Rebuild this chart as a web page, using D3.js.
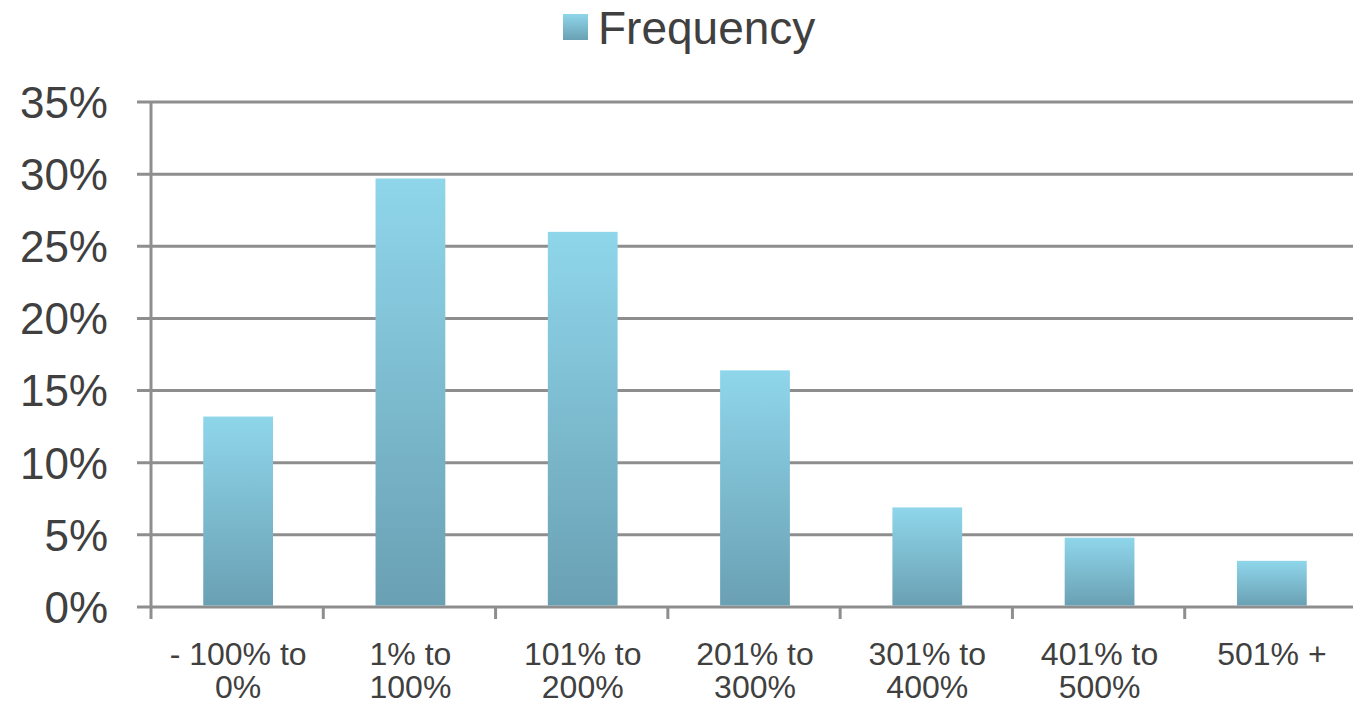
<!DOCTYPE html>
<html><head><meta charset="utf-8">
<script src="https://cdn.jsdelivr.net/npm/d3@7"></script>
<style>html,body{margin:0;padding:0;background:#fff;overflow:hidden}</style>
</head><body>
<svg id="chart" width="1353" height="704"></svg>
<script>
const categories = [["- 100% to","0%"],["1% to","100%"],["101% to","200%"],["201% to","300%"],["301% to","400%"],["401% to","500%"],["501% +"]];
const values = [13.2, 29.7, 26.0, 16.4, 6.9, 4.8, 3.2];
const yTicks = [0,5,10,15,20,25,30,35];
const seriesName = "Frequency";

(function(){
const svg = d3.select("#chart");
const font = "'Liberation Sans', Arial, sans-serif";
const textColor = "#404040";
const gridColor = "#8e8e8e";

const pL = 151, pR = 1357, pT = 102, pB = 607;
const keys = categories.map(c => c.join(" "));
const x = d3.scaleBand().domain(keys).range([pL, pR]).padding(0);
const y = d3.scaleLinear().domain([0,35]).range([pB, pT]);

const defs = svg.append("defs");
const grad = defs.append("linearGradient").attr("id","barGrad").attr("x1",0).attr("y1",0).attr("x2",0).attr("y2",1);
grad.append("stop").attr("offset","0%").attr("stop-color","#8fd6eb");
grad.append("stop").attr("offset","100%").attr("stop-color","#6aa0b3");

svg.append("g").selectAll("line").data(yTicks).join("line")
  .attr("x1", pL - 14).attr("x2", pR)
  .attr("y1", d => y(d)).attr("y2", d => y(d))
  .attr("stroke", gridColor).attr("stroke-width", 3);

svg.append("line").attr("x1", pL).attr("x2", pL).attr("y1", pT).attr("y2", pB)
  .attr("stroke", gridColor).attr("stroke-width", 3);

svg.append("g").selectAll("text").data(yTicks).join("text")
  .attr("x", 108).attr("y", d => y(d)).attr("dy", "0.36em")
  .attr("text-anchor", "end").attr("font-family", font).attr("font-size", 44)
  .attr("fill", textColor).text(d => d + "%");

const tickXs = keys.map(k => x(k)).concat([pR]);
svg.append("g").selectAll("line").data(tickXs).join("line")
  .attr("x1", d => d).attr("x2", d => d).attr("y1", pB).attr("y2", pB + 12)
  .attr("stroke", gridColor).attr("stroke-width", 3);

const bw = x.bandwidth();
const barW = bw * 0.405;
svg.append("g").selectAll("rect").data(values).join("rect")
  .attr("x", (d,i) => x(keys[i]) + (bw - barW)/2 + 1)
  .attr("width", barW)
  .attr("y", d => y(d))
  .attr("height", d => pB - y(d) - 1.5)
  .attr("fill", "url(#barGrad)");

const xl = svg.append("g").selectAll("text").data(categories).join("text")
  .attr("x", (d,i) => x(keys[i]) + bw/2 + 1)
  .attr("y", 665)
  .attr("text-anchor", "middle").attr("font-family", font).attr("font-size", 32)
  .attr("fill", textColor);
xl.each(function(d){
  const t = d3.select(this);
  d.forEach((line, j) => {
    t.append("tspan").attr("x", t.attr("x")).attr("dy", j === 0 ? 0 : 33).text(line);
  });
});

svg.append("rect").attr("x", 563).attr("y", 14).attr("width", 25).attr("height", 26)
  .attr("fill", "url(#barGrad)");
svg.append("text").attr("x", 598).attr("y", 44).attr("font-family", font).attr("font-size", 46)
  .attr("fill", textColor).text(seriesName);
})();
</script>
</body></html>
